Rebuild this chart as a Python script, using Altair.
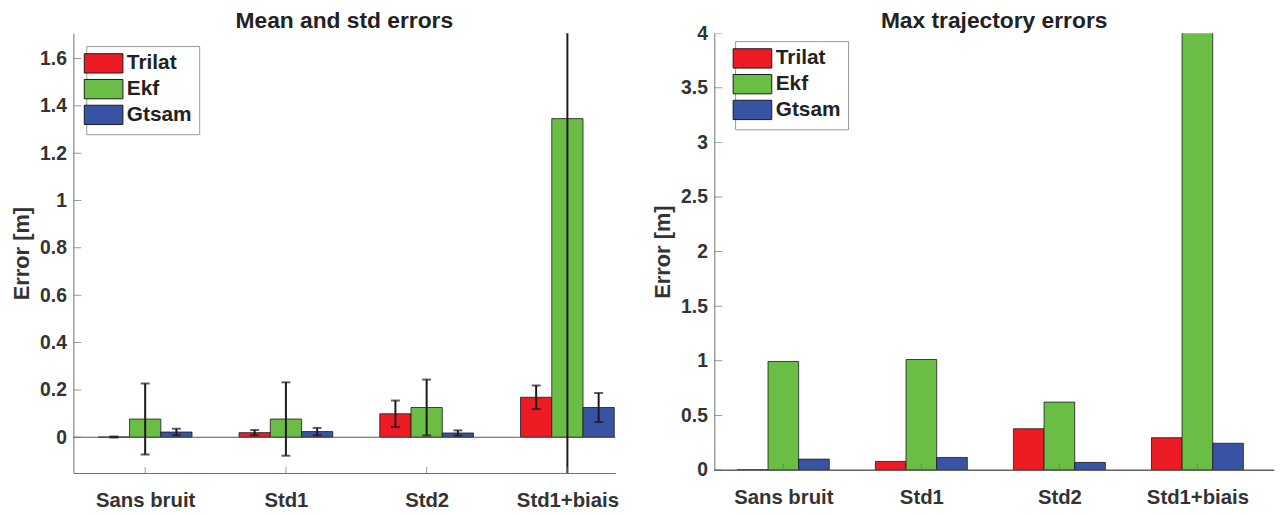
import json
import altair as alt
import pandas as pd

# ---------------- data ----------------
categories = ["Sans bruit", "Std1", "Std2", "Std1+biais"]
series = ["Trilat", "Ekf", "Gtsam"]
colors = ["#ED1C24", "#6ABD45", "#3953A4"]

mean_trilat = [0.001, 0.0195, 0.099, 0.169]
mean_ekf = [0.0768, 0.077, 0.1256, 1.346]
mean_gtsam = [0.022, 0.024, 0.018, 0.1256]

std_trilat = [0.002, 0.011, 0.056, 0.050]
std_ekf = [0.150, 0.155, 0.118, 1.75]
std_gtsam = [0.014, 0.0155, 0.011, 0.061]

max_trilat = [0.002, 0.0785, 0.378, 0.296]
max_ekf = [0.994, 1.012, 0.622, 4.6]
max_gtsam = [0.100, 0.115, 0.0695, 0.245]

left_yticks = [0, 0.2, 0.4, 0.6, 0.8, 1, 1.2, 1.4, 1.6]
right_yticks = [0, 0.5, 1, 1.5, 2, 2.5, 3, 3.5, 4]
group_ticks = [1, 2, 3, 4]

means = [mean_trilat, mean_ekf, mean_gtsam]
stds = [std_trilat, std_ekf, std_gtsam]
maxs = [max_trilat, max_ekf, max_gtsam]

rows = []
for i, cat in enumerate(categories):
    for s, name in enumerate(series):
        rows.append({"idx": i + 1, "sidx": s, "category": cat, "series": name,
                     "mean": means[s][i], "std": stds[s][i], "max": maxs[s][i]})
df = pd.DataFrame(rows)

FONT = "Liberation Sans"
TXT = "#333333"
AX = "#707070"
BW = 0.222  # bar width in group units

label_expr = json.dumps(categories) + "[datum.value - 1]"


def x_axis():
    return alt.Axis(values=group_ticks, labelExpr=label_expr, title=None, ticks=False,
                    grid=False, labelFontSize=20.5, labelFont=FONT, labelFontWeight="bold",
                    labelColor=TXT, labelPadding=18, domainColor=AX, domainWidth=1)


def y_axis(vals):
    return alt.Axis(values=vals, format="~g", title="Error [m]", ticks=False, grid=False,
                    labelFontSize=19.5, labelFont=FONT, labelFontWeight="bold",
                    labelColor=TXT, labelPadding=7, titleFontSize=22, titleFont=FONT,
                    titleFontWeight="bold", titleColor=TXT, titlePadding=6,
                    domainColor=AX, domainWidth=1)


def legend(lx, ly):
    return alt.Legend(title=None, orient="none", legendX=lx, legendY=ly,
                      symbolType="M-2,-1H2V1H-2Z", symbolSize=380,
                      symbolStrokeColor="#1a1a1a", symbolStrokeWidth=1,
                      symbolOpacity=1, labelFontSize=21, labelFont=FONT,
                      labelFontWeight="bold", labelColor="#222222", labelOffset=13,
                      rowPadding=1, padding=7, strokeColor="#999999",
                      fillColor="white")


def panel(value_field, xdom, ydom, yticks, lx, ly, w, h, title, toff, with_err):
    xs = alt.Scale(domain=xdom, nice=False, zero=False)
    ys = alt.Scale(domain=ydom, nice=False, zero=False)
    xa = x_axis()
    ya = y_axis(yticks)
    base = alt.Chart(df).transform_calculate(
        xc=f"datum.idx + (datum.sidx - 1) * {BW}",
        x1=f"datum.idx + (datum.sidx - 1) * {BW} - {BW / 2}",
        x2=f"datum.idx + (datum.sidx - 1) * {BW} + {BW / 2}",
        lo="datum.mean - datum.std",
        hi="datum.mean + datum.std",
    )
    bars = base.mark_bar(stroke="#1a1a1a", strokeWidth=0.8, clip=True).encode(
        x=alt.X("x1:Q", scale=xs, axis=xa),
        x2="x2:Q",
        y=alt.Y(f"{value_field}:Q", scale=ys, axis=ya),
        y2=alt.datum(0),
        color=alt.Color("series:N", scale=alt.Scale(domain=series, range=colors),
                        legend=legend(lx, ly)),
    )
    layers = [bars]
    zero_rule = alt.Chart(pd.DataFrame({"z": [0]})).mark_rule(
        color="#555555", strokeWidth=1).encode(y=alt.Y("z:Q", scale=ys, axis=ya))
    layers.append(zero_rule)
    if with_err:
        err = base.mark_rule(color="#1a1a1a", strokeWidth=2, clip=True).encode(
            x=alt.X("xc:Q", scale=xs, axis=xa), y=alt.Y("lo:Q", scale=ys, axis=ya),
            y2="hi:Q")
        cap_lo = base.mark_tick(orient="horizontal", size=9, thickness=2,
                                color="#1a1a1a", clip=True).encode(
            x=alt.X("xc:Q", scale=xs, axis=xa), y=alt.Y("lo:Q", scale=ys, axis=ya))
        cap_hi = base.mark_tick(orient="horizontal", size=9, thickness=2,
                                color="#1a1a1a", clip=True).encode(
            x=alt.X("xc:Q", scale=xs, axis=xa), y=alt.Y("hi:Q", scale=ys, axis=ya))
        layers += [err, cap_lo, cap_hi]
    yt = alt.Chart(pd.DataFrame({"v": yticks, "m": [xdom[0]] * len(yticks)})).mark_tick(
        orient="horizontal", size=16, thickness=1, color=AX, clip=True).encode(
        y=alt.Y("v:Q", scale=ys, axis=ya), x=alt.X("m:Q", scale=xs, axis=xa))
    xt = alt.Chart(pd.DataFrame({"c": group_ticks, "m": [ydom[0]] * len(group_ticks)})).mark_tick(
        orient="vertical", size=12, thickness=1, color=AX, clip=True).encode(
        x=alt.X("c:Q", scale=xs, axis=xa), y=alt.Y("m:Q", scale=ys, axis=ya))
    layers += [yt, xt]
    return alt.layer(*layers).properties(
        width=w, height=h,
        title=alt.Title(title, fontSize=23, font=FONT, fontWeight="bold",
                        color="#222222", anchor="middle", offset=toff),
    )


left = panel("mean", [0.49, 4.34], [-0.151, 1.707], left_yticks, 13, 13, 547, 444,
             "Mean and std errors", 0, True)
right = panel("max", [0.5, 4.555], [0, 4], right_yticks, 21, 8, 565, 441,
              "Max trajectory errors", -10, False)

chart = alt.hconcat(left, right, spacing=32).resolve_scale(
    x="independent", y="independent", color="independent"
).resolve_legend(color="independent").properties(
    padding={"left": 2, "top": 0, "right": 0, "bottom": 0}
).configure_view(stroke=None)

chart.save("out.html", embed_options={"renderer": "svg", "actions": False})
